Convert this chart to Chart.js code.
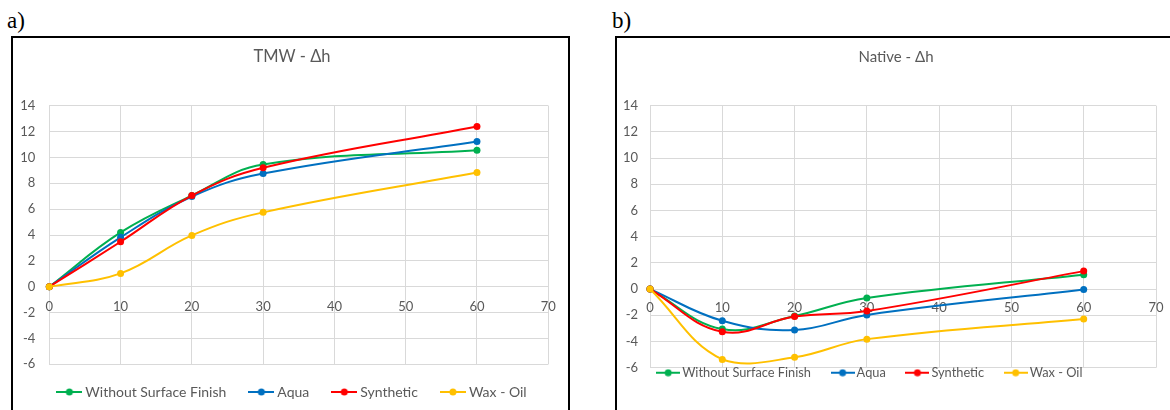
<!DOCTYPE html>
<html>
<head>
<meta charset="utf-8">
<script src="https://cdn.jsdelivr.net/npm/chart.js@4"></script>
<style>
    html, body { margin: 0; padding: 0; background: #fff; width: 1170px; height: 410px; overflow: hidden; position: relative; }
    .tag { position: absolute; font-family: "Liberation Serif", serif; font-size: 23px; line-height: 23px; color: #000; }
    .frame { position: absolute; box-sizing: border-box; border: 2px solid #000; background: #fff; }
    canvas { position: absolute; }
</style>
</head>
<body>
<div class="tag" style="left:7px;top:9px;">a)</div>
<div class="tag" style="left:612px;top:9px;">b)</div>
<div class="frame" style="left:11px;top:36px;width:559px;height:400px;"></div>
<div class="frame" style="left:615px;top:36px;width:600px;height:400px;"></div>
<canvas id="chart-a" width="555" height="378" style="left:13px;top:38px;width:555px;height:378px;"></canvas>
<canvas id="chart-b" width="560" height="378" style="left:617px;top:38px;width:560px;height:378px;"></canvas>
<script>
const minutes = [0, 10, 20, 30, 60];
const xTicks = [0, 10, 20, 30, 40, 50, 60, 70];
const yTicks = [-6, -4, -2, 0, 2, 4, 6, 8, 10, 12, 14];
const seriesNames = ['Without Surface Finish', 'Aqua', 'Synthetic', 'Wax - Oil'];
const seriesColors = ['#00B050', '#0070C0', '#FF0000', '#FFC000'];

// a) TMW
const tmwWithout = [0, 4.2, 7.05, 9.45, 10.55];
const tmwAqua = [0, 3.82, 6.97, 8.75, 11.23];
const tmwSynthetic = [0, 3.48, 7.05, 9.2, 12.39];
const tmwWaxOil = [0, 1.03, 3.97, 5.75, 8.83];

// b) Native
const nativeWithout = [0, -3.05, -2.06, -0.68, 1.1];
const nativeAqua = [0, -2.42, -3.12, -1.97, -0.03];
const nativeSynthetic = [0, -3.26, -2.1, -1.68, 1.37];
const nativeWaxOil = [0, -5.37, -5.21, -3.82, -2.29];

Chart.defaults.font.family = 'Lato';

// line + dot sample like the Excel legend
function legendIcon(color, w) {
    const c = document.createElement('canvas');
    c.width = w;
    c.height = 8;
    const g = c.getContext('2d');
    g.strokeStyle = color;
    g.lineWidth = 2;
    g.beginPath();
    g.moveTo(0, 4);
    g.lineTo(w, 4);
    g.stroke();
    g.fillStyle = color;
    g.beginPath();
    g.arc(w / 2, 4, 3.5, 0, Math.PI * 2);
    g.fill();
    return c;
}

// nudge title and legend boxes after layout (Excel places them freely)
const boxShift = {
    id: 'boxShift',
    afterLayout(chart, args, opts) {
        const pairs = [[chart.titleBlock, opts.title], [chart.legend, opts.legend]];
        for (const [box, d] of pairs) {
            if (!box || !d) continue;
            box.left += d.dx; box.right += d.dx;
            box.top += d.dy; box.bottom += d.dy;
        }
    }
};

function makeChart(id, titleText, series, s) {
    return new Chart(document.getElementById(id), {
        type: 'line',
        data: {
            datasets: series.map((vals, i) => ({
                label: seriesNames[i],
                data: minutes.map((m, k) => ({ x: m, y: vals[k] })),
                borderColor: seriesColors[i],
                backgroundColor: seriesColors[i],
                borderWidth: 2,
                pointRadius: 3.5,
                pointBorderWidth: 0,
                tension: 0.4,
                clip: false,
                order: series.length - i
            }))
        },
        options: {
            responsive: false,
            animation: false,
            devicePixelRatio: 1,
            layout: { padding: { left: 0, right: s.padRight, top: 0, bottom: s.padBottom } },
            scales: {
                x: {
                    type: 'linear',
                    position: { y: 0 },
                    min: 0,
                    max: 70,
                    afterBuildTicks: sc => { sc.ticks = xTicks.map(v => ({ value: v })); },
                    grid: { color: '#d9d9d9', drawTicks: false },
                    border: { color: '#d9d9d9' },
                    ticks: { color: '#595959', font: { size: s.tickSize }, padding: s.xTickPad, maxRotation: 0 }
                },
                y: {
                    type: 'linear',
                    min: -6,
                    max: 14,
                    afterBuildTicks: sc => { sc.ticks = yTicks.map(v => ({ value: v })); },
                    afterFit: sc => { sc.width = s.axisWidth; },
                    grid: { color: '#d9d9d9', drawTicks: false },
                    border: { display: false },
                    ticks: { color: '#595959', font: { size: s.tickSize }, padding: s.yTickPad }
                }
            },
            plugins: {
                title: {
                    display: true,
                    text: titleText,
                    color: '#595959',
                    font: { size: s.titleSize, weight: 'normal' },
                    padding: { top: s.titleTop, bottom: s.titleBottom }
                },
                legend: {
                    position: 'bottom',
                    labels: {
                        usePointStyle: true,
                        pointStyleWidth: s.boxWidth,
                        padding: s.legendPad,
                        color: '#595959',
                        font: { size: s.legendSize },
                        sort: (a, b) => a.datasetIndex - b.datasetIndex,
                        generateLabels: chart => Chart.defaults.plugins.legend.labels.generateLabels(chart).map(item => ({
                            ...item,
                            pointStyle: legendIcon(seriesColors[item.datasetIndex], s.iconWidth)
                        }))
                    }
                },
                tooltip: { enabled: false },
                boxShift: {
                    title: { dx: s.titleDx, dy: 0 },
                    legend: { dx: s.legendDx, dy: s.legendDy }
                }
            }
        },
        plugins: [boxShift]
    });
}

makeChart('chart-a', 'TMW - Δh', [tmwWithout, tmwAqua, tmwSynthetic, tmwWaxOil], {
    padRight: 19, padBottom: 1.7, axisWidth: 36.3, yTickPad: 14, xTickPad: 12.2, tickSize: 13,
    titleSize: 16.5, titleTop: 9.1, titleBottom: 38.8, titleDx: 11,
    legendSize: 14, boxWidth: 18, iconWidth: 26, legendPad: 26, legendDx: 12.5, legendDy: -5.3
});

makeChart('chart-b', 'Native - Δh', [nativeWithout, nativeAqua, nativeSynthetic, nativeWaxOil], {
    padRight: 21, padBottom: 1.5, axisWidth: 33, yTickPad: 12, xTickPad: 11, tickSize: 13,
    titleSize: 15, titleTop: 10, titleBottom: 39.6, titleDx: 9.5,
    legendSize: 12.8, boxWidth: 15.2, iconWidth: 24, legendPad: 24, legendDx: -15, legendDy: -25.4
});
</script>
</body>
</html>
